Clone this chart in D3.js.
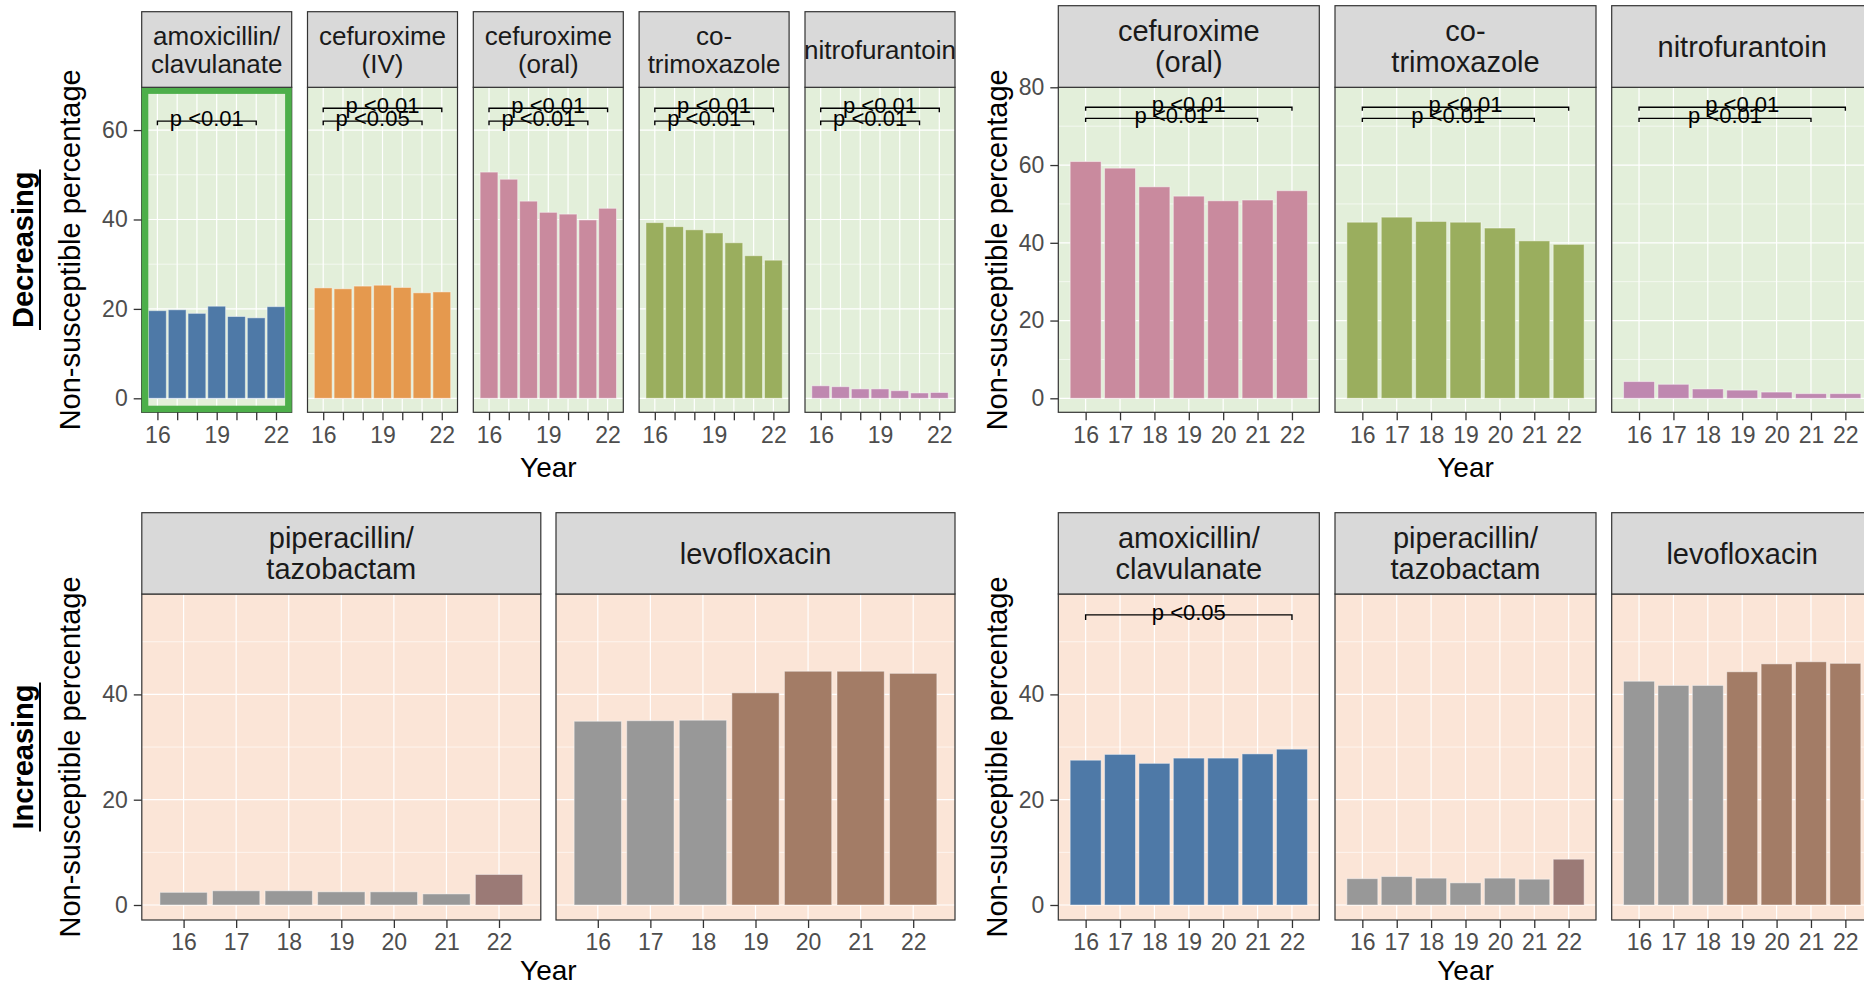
<!DOCTYPE html>
<html>
<head>
<meta charset="utf-8">
<script src="https://cdn.jsdelivr.net/npm/d3@7"></script>
<style>
body { margin: 0; background: #fff; }
svg { display: block; font-family: "Liberation Sans", Arial, Helvetica, sans-serif; }
</style>
</head>
<body>
<svg id="chart" width="1864" height="985"></svg>
<script>
const $ = document.getElementById.bind(document);

/* DATA
 */

const years = [16, 17, 18, 19, 20, 21, 22];

// Decreasing, left block
const decA_amoxClav = [19.6, 19.8, 19.0, 20.6, 18.3, 18.0, 20.5];
const decA_cefIV    = [24.7, 24.5, 25.1, 25.3, 24.8, 23.6, 23.8];
const decA_cefOral  = [50.6, 49.0, 44.1, 41.6, 41.2, 39.9, 42.5];
const decA_coTrim   = [39.3, 38.4, 37.7, 37.0, 34.8, 31.9, 30.9];
const decA_nitro    = [2.8, 2.6, 2.1, 2.1, 1.7, 1.2, 1.3];

// Decreasing, right block
const decB_cefOral = [60.9, 59.2, 54.4, 52.0, 50.8, 51.0, 53.4];
const decB_coTrim  = [45.3, 46.6, 45.5, 45.3, 43.8, 40.5, 39.6];
const decB_nitro   = [4.3, 3.6, 2.4, 2.1, 1.6, 1.2, 1.2];

// Increasing, left block
const incA_pipTazo = [2.4, 2.7, 2.7, 2.5, 2.5, 2.1, 5.8];
const incA_levo    = [34.9, 35.0, 35.1, 40.3, 44.4, 44.4, 44.0];

// Increasing, right block
const incB_amoxClav = [27.5, 28.6, 26.9, 27.9, 27.9, 28.7, 29.6];
const incB_pipTazo  = [5.0, 5.4, 5.1, 4.2, 5.1, 4.9, 8.7];
const incB_levo     = [42.5, 41.7, 41.7, 44.3, 45.8, 46.2, 45.9];

// which years are part of the rising phase (others drawn grey)
const pipTazoPhase = ["flat", "flat", "flat", "flat", "flat", "flat", "rise"];
const levoPhase    = ["flat", "flat", "flat", "rise", "rise", "rise", "rise"];
const allRise      = ["rise", "rise", "rise", "rise", "rise", "rise", "rise"];

// significance brackets: [from year, to year, y value, label]
const sigOne01  = [[16, 21, 62.0, "p <0.01"]];
const sigTwoA01 = [[16, 22, 64.9, "p <0.01"], [16, 21, 62.0, "p <0.01"]];
const sigTwoA05 = [[16, 22, 64.9, "p <0.01"], [16, 21, 62.0, "p <0.05"]];
const sigTwoB01 = [[16, 22, 74.85, "p <0.01"], [16, 21, 72.0, "p <0.01"]];
const sigIncB05 = [[16, 22, 55.1, "p <0.05"]];

const decTicks = [0, 20, 40, 60];
const decBTicks = [0, 20, 40, 60, 80];
const incTicks = [0, 20, 40];

/* STYLE
 */

const fills = {
    amox: "#4E79A7", cefIV: "#E5994E", cefOral: "#C98A9E", coTrim: "#9AAE5E",
    nitro: "#BF88B0", levo: "#A37C66", pip: "#9B7A76", flat: "#989898"
};

const subplots = [
    {
	x0s: [141.7, 307.5, 473.3, 639.1, 805], w: 150,
	stripTop: 11.7, stripBot: 87.3, bot: 412.3,
	yDom: [-3.13, 69.57], yTicks: decTicks, xLabels: [16, 19, 22],
	stripFont: 26, bg: "#E3EFDA", yTitleX: 80, yearY: 477,
	side: { text: "Decreasing", x: 33, ux: 40 },
	tip: 4,
	panels: [
	    { lines: ["amoxicillin/", "clavulanate"], values: decA_amoxClav, fill: "amox", phase: allRise, sig: sigOne01, highlight: true },
	    { lines: ["cefuroxime", "(IV)"], values: decA_cefIV, fill: "cefIV", phase: allRise, sig: sigTwoA05 },
	    { lines: ["cefuroxime", "(oral)"], values: decA_cefOral, fill: "cefOral", phase: allRise, sig: sigTwoA01 },
	    { lines: ["co-", "trimoxazole"], values: decA_coTrim, fill: "coTrim", phase: allRise, sig: sigTwoA01 },
	    { lines: ["nitrofurantoin"], values: decA_nitro, fill: "nitro", phase: allRise, sig: sigTwoA01 }
	]
    },
    {
	x0s: [1058.3, 1335, 1611.7], w: 261,
	stripTop: 5.7, stripBot: 87.3, bot: 412.3,
	yDom: [-3.6, 80.0], yTicks: decBTicks, xLabels: years,
	stripFont: 29, bg: "#E3EFDA", yTitleX: 1007, yearY: 477,
	tip: 3.5,
	panels: [
	    { lines: ["cefuroxime", "(oral)"], values: decB_cefOral, fill: "cefOral", phase: allRise, sig: sigTwoB01 },
	    { lines: ["co-", "trimoxazole"], values: decB_coTrim, fill: "coTrim", phase: allRise, sig: sigTwoB01 },
	    { lines: ["nitrofurantoin"], values: decB_nitro, fill: "nitro", phase: allRise, sig: sigTwoB01 }
	]
    },
    {
	x0s: [141.8, 556], w: 399,
	stripTop: 512.7, stripBot: 594, bot: 920,
	yDom: [-2.85, 59.07], yTicks: incTicks, xLabels: years,
	stripFont: 29, bg: "#FBE5D7", yTitleX: 80, yearY: 980,
	side: { text: "Increasing", x: 33, ux: 40 },
	tip: 5,
	panels: [
	    { lines: ["piperacillin/", "tazobactam"], values: incA_pipTazo, fill: "pip", phase: pipTazoPhase, sig: [] },
	    { lines: ["levofloxacin"], values: incA_levo, fill: "levo", phase: levoPhase, sig: [] }
	]
    },
    {
	x0s: [1058.3, 1335, 1611.7], w: 261,
	stripTop: 512.7, stripBot: 594, bot: 920,
	yDom: [-2.85, 59.07], yTicks: incTicks, xLabels: years,
	stripFont: 29, bg: "#FBE5D7", yTitleX: 1007, yearY: 980,
	tip: 5,
	panels: [
	    { lines: ["amoxicillin/", "clavulanate"], values: incB_amoxClav, fill: "amox", phase: allRise, sig: sigIncB05 },
	    { lines: ["piperacillin/", "tazobactam"], values: incB_pipTazo, fill: "pip", phase: pipTazoPhase, sig: [] },
	    { lines: ["levofloxacin"], values: incB_levo, fill: "levo", phase: levoPhase, sig: [] }
	]
    }
];

/* DRAW
 */

const svg = d3.select("#chart");
let clipId = 0;

subplots.forEach(drawSubplot);

function drawSubplot(sp) {
    const g = svg.append("g");
    const y = d3.scaleLinear().domain(sp.yDom).range([sp.bot, sp.stripBot]);
    const minor = d3.range(10, sp.yDom[1], 20);

    sp.panels.forEach(function(p, i) {
	const x0 = sp.x0s[i];
	const x = d3.scaleLinear().domain([15.205, 22.795]).range([x0, x0 + sp.w]);
	const pg = g.append("g");

	// background + grid
	pg.append("rect")
	    .attr("x", x0).attr("y", sp.stripBot)
	    .attr("width", sp.w).attr("height", sp.bot - sp.stripBot)
	    .attr("fill", sp.bg);
	pg.selectAll(".minor").data(minor).enter().append("line")
	    .attr("x1", x0).attr("x2", x0 + sp.w)
	    .attr("y1", (d) => y(d)).attr("y2", (d) => y(d))
	    .attr("stroke", "#fff").attr("stroke-width", 0.6);
	pg.selectAll(".major").data(sp.yTicks.filter((d) => d < sp.yDom[1])).enter().append("line")
	    .attr("x1", x0).attr("x2", x0 + sp.w)
	    .attr("y1", (d) => y(d)).attr("y2", (d) => y(d))
	    .attr("stroke", "#fff").attr("stroke-width", 1.2);
	pg.selectAll(".vgrid").data(years).enter().append("line")
	    .attr("x1", (d) => x(d)).attr("x2", (d) => x(d))
	    .attr("y1", sp.stripBot).attr("y2", sp.bot)
	    .attr("stroke", "#fff").attr("stroke-width", 1.2);

	// bars
	pg.selectAll(".bar").data(p.values).enter().append("rect")
	    .attr("x", (d, j) => x(years[j] - 0.45))
	    .attr("width", (d, j) => x(years[j] + 0.45) - x(years[j] - 0.45))
	    .attr("y", (d) => y(d))
	    .attr("height", (d) => y(0) - y(d))
	    .attr("fill", (d, j) => p.phase[j] == "flat" ? fills.flat : fills[p.fill])
	    .attr("stroke", "rgba(255,255,255,0.45)")
	    .attr("stroke-width", 1);

	// significance brackets
	p.sig.forEach(function(s) {
	    const yy = y(s[2]);
	    pg.append("path")
		.attr("d", `M${x(s[0])},${yy + sp.tip}V${yy}H${x(s[1])}V${yy + sp.tip}`)
		.attr("fill", "none").attr("stroke", "#000").attr("stroke-width", 1.4);
	    pg.append("text")
		.attr("x", x((s[0] + s[1]) / 2)).attr("y", yy + 5)
		.attr("text-anchor", "middle")
		.attr("font-size", 22).attr("fill", "#000")
		.text(s[3]);
	});

	// panel border
	pg.append("rect")
	    .attr("x", x0).attr("y", sp.stripBot)
	    .attr("width", sp.w).attr("height", sp.bot - sp.stripBot)
	    .attr("fill", "none").attr("stroke", "#333").attr("stroke-width", 1.2);

	if (p.highlight) {
	    pg.append("rect")
		.attr("x", x0 + 3.3).attr("y", sp.stripBot + 3.3)
		.attr("width", sp.w - 6.6).attr("height", sp.bot - sp.stripBot - 6.6)
		.attr("fill", "none").attr("stroke", "#4DAF4A").attr("stroke-width", 6.6);
	}

	// strip
	const id = "clip" + (clipId++);
	pg.append("clipPath").attr("id", id).append("rect")
	    .attr("x", x0).attr("y", sp.stripTop)
	    .attr("width", sp.w).attr("height", sp.stripBot - sp.stripTop);
	pg.append("rect")
	    .attr("x", x0).attr("y", sp.stripTop)
	    .attr("width", sp.w).attr("height", sp.stripBot - sp.stripTop)
	    .attr("fill", "#D9D9D9").attr("stroke", "#333").attr("stroke-width", 1.2);
	const mid = (sp.stripTop + sp.stripBot) / 2 + 0.35 * sp.stripFont;
	const n = p.lines.length;
	pg.append("g").attr("clip-path", `url(#${id})`)
	    .selectAll("text").data(p.lines).enter().append("text")
	    .attr("x", x0 + sp.w / 2)
	    .attr("y", (d, k) => mid + (k - (n - 1) / 2) * 1.07 * sp.stripFont)
	    .attr("text-anchor", "middle")
	    .attr("font-size", sp.stripFont).attr("fill", "#1A1A1A")
	    .text((d) => d);

	// x axis
	const xa = pg.append("g")
	    .attr("transform", `translate(0,${sp.bot})`)
	    .call(d3.axisBottom(x).tickValues(years).tickSize(8).tickPadding(6)
		  .tickFormat((d) => sp.xLabels.indexOf(d) > -1 ? d : ""));
	styleAxis(xa);

	// y axis on first panel
	if (i == 0) {
	    const ya = pg.append("g")
		.attr("transform", `translate(${x0},0)`)
		.call(d3.axisLeft(y).tickValues(sp.yTicks).tickSize(8).tickPadding(6));
	    styleAxis(ya);
	}
    });

    // axis titles
    const left = sp.x0s[0];
    const right = sp.x0s[sp.x0s.length - 1] + sp.w;
    const cy = (sp.stripBot + sp.bot) / 2;
    g.append("text")
	.attr("x", (left + right) / 2).attr("y", sp.yearY)
	.attr("text-anchor", "middle").attr("font-size", 28).attr("fill", "#000")
	.text("Year");
    g.append("text")
	.attr("transform", `translate(${sp.yTitleX},${cy}) rotate(-90)`)
	.attr("text-anchor", "middle").attr("font-size", 29).attr("fill", "#000")
	.text("Non-susceptible percentage");

    if (sp.side) {
	const t = g.append("text")
	    .attr("transform", `translate(${sp.side.x},${cy}) rotate(-90)`)
	    .attr("text-anchor", "middle").attr("font-size", 29)
	    .attr("font-weight", "bold").attr("fill", "#000")
	    .text(sp.side.text);
	const len = t.node().getComputedTextLength();
	g.append("line")
	    .attr("x1", sp.side.ux).attr("x2", sp.side.ux)
	    .attr("y1", cy - len / 2 - 2).attr("y2", cy + len / 2 + 2)
	    .attr("stroke", "#000").attr("stroke-width", 2);
    }
}

function styleAxis(a) {
    a.select(".domain").remove();
    a.selectAll(".tick line").attr("stroke", "#333").attr("stroke-width", 1.3);
    a.selectAll(".tick text")
	.attr("font-size", 23).attr("fill", "#4D4D4D")
	.attr("font-family", "Liberation Sans, Arial, sans-serif");
}
</script>
</body>
</html>
